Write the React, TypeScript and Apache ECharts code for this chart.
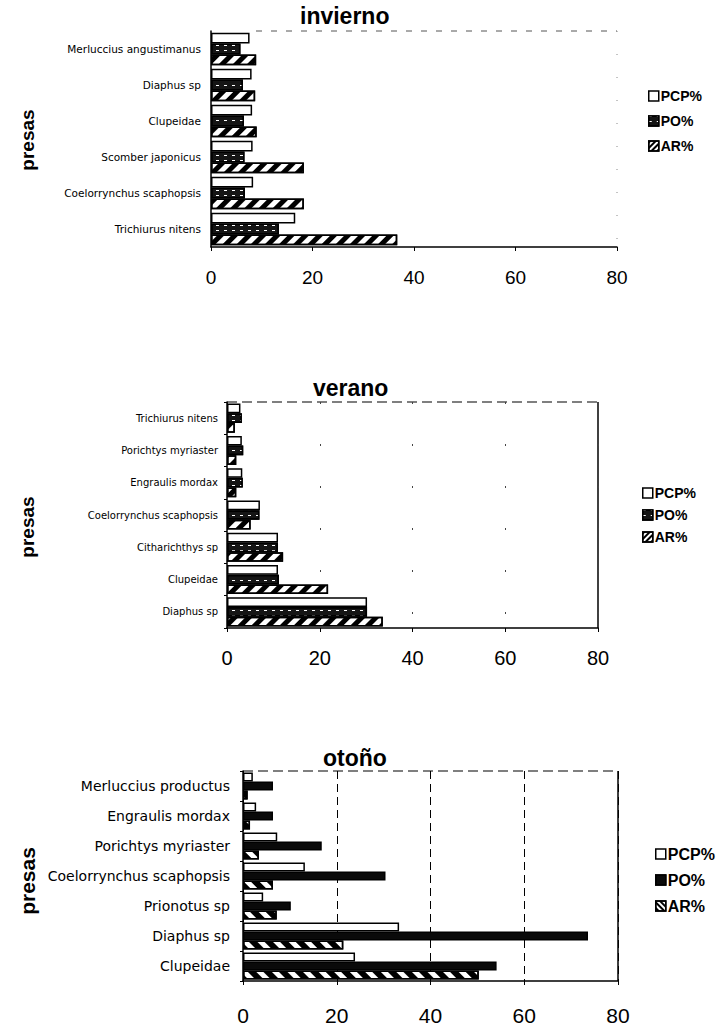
import React, { useEffect, useRef } from "react";
import * as echarts from "echarts";

// ---------- data ----------
const legendNames = ["PCP%", "PO%", "AR%"];
const chartTitles = ["invierno", "verano", "otoño"];
const yAxisTitle = "presas";
const xMin = 0;
const xMax = 80;
const xInterval = 20;

// invierno (bottom -> top)
const inviernoPresas = [
  "Trichiurus nitens",
  "Coelorrynchus scaphopsis",
  "Scomber japonicus",
  "Clupeidae",
  "Diaphus sp",
  "Merluccius angustimanus",
];
const inviernoPCP = [16.6, 8.3, 8.2, 8.1, 8.0, 7.6];
const inviernoPO = [13.4, 6.7, 6.6, 6.5, 6.3, 5.8];
const inviernoAR = [36.7, 18.3, 18.3, 9.0, 8.7, 8.9];

// verano (bottom -> top)
const veranoPresas = [
  "Diaphus sp",
  "Clupeidae",
  "Citharichthys sp",
  "Coelorrynchus scaphopsis",
  "Engraulis mordax",
  "Porichtys myriaster",
  "Trichiurus nitens",
];
const veranoPCP = [30.2, 11.0, 11.0, 7.1, 3.3, 3.2, 2.9];
const veranoPO = [30.2, 11.2, 11.0, 7.0, 3.4, 3.5, 3.2];
const veranoAR = [33.6, 21.8, 12.1, 5.1, 2.0, 2.0, 1.7];

// otoño (bottom -> top)
const otonoPresas = [
  "Clupeidae",
  "Diaphus sp",
  "Prionotus sp",
  "Coelorrynchus scaphopsis",
  "Porichtys myriaster",
  "Engraulis mordax",
  "Merluccius productus",
];
const otonoPCP = [23.9, 33.3, 4.3, 13.2, 7.3, 2.8, 2.1];
const otonoPO = [54.1, 73.6, 10.2, 30.4, 16.8, 6.4, 6.4];
const otonoAR = [50.3, 21.4, 7.2, 6.4, 3.4, 1.5, 1.0];

// ---------- styles ----------
const FONT = "'Liberation Sans', Arial, sans-serif";
const CAT_FONT = "'DejaVu Sans', sans-serif";

const panels = [
  {
    cats: inviernoPresas, pcp: inviernoPCP, po: inviernoPO, ar: inviernoAR,
    grid: { left: 211, top: 31, width: 406, height: 216 },
    titlePos: { left: 300, top: 4 },
    catFont: 10.5, catMargin: 10, tickFont: 19, tickMargin: 21,
    legendPos: { left: 648, top: 89 }, legendFont: 14, legendGap: 11,
    nameY: 140, nameFont: 19, poSolid: false, arRot: -Math.PI / 4, arDash: [4.5, 4.5],
    split: null as any, frame: "faint",
  },
  {
    cats: veranoPresas, pcp: veranoPCP, po: veranoPO, ar: veranoAR,
    grid: { left: 227, top: 402, width: 371, height: 226 },
    titlePos: { left: 313, top: 376 },
    catFont: 10, catMargin: 9, tickFont: 20, tickMargin: 20,
    legendPos: { left: 642, top: 486 }, legendFont: 14, legendGap: 8,
    nameY: 527, nameFont: 19, poSolid: false, arRot: -Math.PI / 4, arDash: [4.5, 4.5],
    split: { color: "#444", type: [2, 40], width: 1 }, frame: "solid",
  },
  {
    cats: otonoPresas, pcp: otonoPCP, po: otonoPO, ar: otonoAR,
    grid: { left: 243, top: 771, width: 375, height: 210 },
    titlePos: { left: 323, top: 746 },
    catFont: 14, catMargin: 13, tickFont: 21, tickMargin: 24,
    legendPos: { left: 655, top: 846 }, legendFont: 16, legendGap: 10,
    nameY: 881, nameFont: 21, poSolid: true, arRot: Math.PI / 4, arDash: [6, 5],
    split: { color: "#000", type: [8, 5], width: 1 }, frame: "solid",
  },
];

const noDecal = { symbol: "rect", symbolSize: 1, color: "rgba(0,0,0,0)", dashArrayX: [1, 0], dashArrayY: [1, 0] };

function pcpStyle() {
  return { color: "#fff", borderColor: "#000", borderWidth: 1.5 };
}
function poStyle(solid: boolean) {
  if (solid) return { color: "#0a0a0a", borderColor: "#000", borderWidth: 1.5 };
  return {
    color: "#151515",
    borderColor: "#000",
    borderWidth: 1.5,
    decal: { symbol: "rect", symbolSize: 1, color: "#fff", dashArrayX: [3, 5], dashArrayY: [1, 4], rotation: 0 },
  };
}
function arStyle(rot: number, dash: number[]) {
  return {
    color: "#fff",
    borderColor: "#000",
    borderWidth: 1.5,
    decal: { symbol: "rect", symbolSize: 1, color: "#000", dashArrayX: [1, 0], dashArrayY: dash, rotation: rot },
  };
}

function buildOption() {
  const grid: any[] = [];
  const xAxis: any[] = [];
  const yAxis: any[] = [];
  const series: any[] = [];
  const title: any[] = [];
  const legend: any[] = [];
  const graphic: any[] = [];

  panels.forEach((p, i) => {
    grid.push({ ...p.grid, containLabel: false });
    xAxis.push({
      gridIndex: i,
      type: "value",
      min: xMin,
      max: xMax,
      interval: xInterval,
      axisLine: { show: true, lineStyle: { color: "#000", width: 1.5 } },
      axisTick: { show: true, length: 4, lineStyle: { color: "#000" } },
      splitLine: p.split ? { show: true, lineStyle: p.split } : { show: false },
      axisLabel: { fontSize: p.tickFont, color: "#000", fontFamily: FONT, margin: p.tickMargin },
    });
    yAxis.push({
      gridIndex: i,
      type: "category",
      data: p.cats,
      axisLine: { show: true, lineStyle: { color: "#000", width: 1.5 } },
      axisTick: { show: i > 0, length: 3, lineStyle: { color: "#000" } },
      axisLabel: { fontSize: p.catFont, color: "#000", fontFamily: CAT_FONT, margin: p.catMargin },
    });
    const common = { type: "bar", xAxisIndex: i, yAxisIndex: i, barGap: "0%", barCategoryGap: "10%" };
    series.push({ ...common, name: legendNames[0], data: p.pcp, itemStyle: pcpStyle() });
    series.push({ ...common, name: legendNames[1], data: p.po, itemStyle: poStyle(p.poSolid) });
    series.push({ ...common, name: legendNames[2], data: p.ar, itemStyle: arStyle(p.arRot, p.arDash) });

    title.push({
      text: chartTitles[i],
      left: p.titlePos.left,
      top: p.titlePos.top,
      padding: 0,
      textStyle: { fontFamily: FONT, fontSize: 23, fontWeight: "bold", color: "#000" },
    });

    const poLegendStyle: any = p.poSolid ? { ...poStyle(true), decal: noDecal } : poStyle(false);
    legend.push({
      orient: "vertical",
      left: p.legendPos.left,
      top: p.legendPos.top,
      padding: 0,
      itemWidth: 10,
      itemHeight: 10,
      itemGap: p.legendGap,
      selectedMode: false,
      icon: "rect",
      textStyle: { fontFamily: FONT, fontSize: p.legendFont, fontWeight: "bold", color: "#000", padding: [0, 0, 0, -3] },
      data: [
        { name: legendNames[0], itemStyle: pcpStyle() },
        { name: legendNames[1], itemStyle: poLegendStyle },
        { name: legendNames[2], itemStyle: arStyle(p.arRot, [2, 2]) },
      ],
    });

    graphic.push({
      type: "text",
      x: 27,
      y: p.nameY,
      rotation: Math.PI / 2,
      style: {
        text: yAxisTitle,
        fontFamily: FONT,
        fontSize: p.nameFont,
        fontWeight: "bold",
        fill: "#000",
        textAlign: "center",
        textVerticalAlign: "middle",
      },
    });

    const g = p.grid;
    const x0 = g.left, x1 = g.left + g.width, y0 = g.top, y1 = g.top + g.height;
    if (p.frame === "faint") {
      graphic.push({
        type: "line",
        shape: { x1: x0 + 45, y1: y0, x2: x1, y2: y0 },
        style: { stroke: "#555", lineWidth: 1, lineDash: [6, 9] },
      });
      graphic.push({
        type: "line",
        shape: { x1: x1, y1: y0, x2: x1, y2: y1 },
        style: { stroke: "#888", lineWidth: 1, lineDash: [1, 22] },
      });
    } else {
      graphic.push({
        type: "line",
        shape: { x1: x0, y1: y0, x2: x1, y2: y0 },
        style: { stroke: "#000", lineWidth: 1.2, lineDash: [10, 5] },
      });
      graphic.push({
        type: "line",
        shape: { x1: x1, y1: y0, x2: x1, y2: y1 },
        style: { stroke: "#000", lineWidth: 1.5 },
      });
    }
  });

  return {
    animation: false,
    backgroundColor: "#fff",
    title,
    legend,
    grid,
    xAxis,
    yAxis,
    series,
    graphic,
  };
}

export default function App() {
  const ref = useRef<HTMLDivElement>(null);
  useEffect(() => {
    document.body.style.margin = "0";
    if (!ref.current) return;
    const chart = echarts.init(ref.current, undefined, { renderer: "svg" });
    chart.setOption(buildOption() as any);
    return () => chart.dispose();
  }, []);
  return <div ref={ref} style={{ width: 718, height: 1028 }} />;
}
